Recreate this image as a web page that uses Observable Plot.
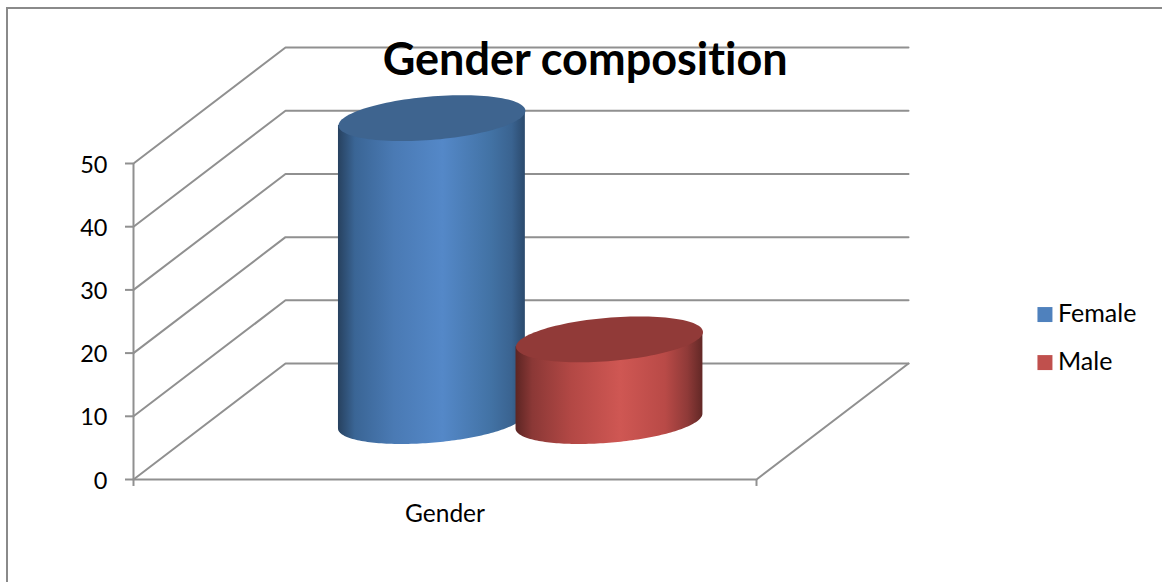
<!DOCTYPE html>
<html>
<head>
<meta charset="utf-8">
<title>Gender composition</title>
<style>
  html, body { margin: 0; padding: 0; background: #fff; overflow: hidden; }
  #chart { position: relative; width: 1162px; height: 582px; overflow: hidden; }
  #chart svg { display: block; position: absolute; left: 0; top: 0; font-variant-ligatures: none; }
  #chart svg text { font-variant-ligatures: none; font-feature-settings: "liga" 0; }
  /* Chart-area outline: runs off the page on the right and bottom. */
  #outline { position: absolute; left: 6px; top: 7px; width: 1170px; height: 600px;
             border: 2px solid #8a8a8a; box-sizing: border-box; }
</style>
<script src="https://cdn.jsdelivr.net/npm/d3@7"></script>
<script src="https://cdn.jsdelivr.net/npm/@observablehq/plot@0.6"></script>
</head>
<body>
<div id="chart"><div id="outline"></div></div>
<script>
// Chart values
const categoryName = "Gender";
const seriesNames = ["Female", "Male"];
const seriesValues = [48, 13];
const valueTicks = [0, 10, 20, 30, 40, 50];

// Colours
const swatchColors = ["#4f81bd", "#c0504d"];
const capColors = ["#3e648f", "#913a38"];
const bodyStops = [
  [[0, "#27415f"], [0.09, "#3a6595"], [0.3, "#4a7ab4"], [0.56, "#5488c8"], [0.82, "#4272a4"], [0.93, "#3a6390"], [1, "#2b4a6d"]],
  [[0, "#5c2523"], [0.09, "#8b3836"], [0.3, "#b34845"], [0.56, "#cf5753"], [0.8, "#b94a47"], [0.92, "#8f3a38"], [1, "#622826"]]
];
const gridColor = "#909090";

// Oblique projection: each unit of depth shifts right and up.
const depthX = 0.244;
const depthV = 18.35;
const maxValue = 50;

// Cylinder footprint, expressed in category width and in floor depth.
const slotCenters = [0.357, 0.642];
const radiusX = 0.142;
const radiusZ = 0.198;
const midDepth = 0.5;

const px = (x, z) => x + depthX * z;
const pv = (v, z) => v + depthV * z;

// Closed outline of the cylinder's top, in chart coordinates.
function capOutline(cx, value) {
  return d3.range(0, 121).map(i => {
    const t = (i / 120) * 2 * Math.PI;
    return {
      x: px(cx + radiusX * Math.cos(t), midDepth + radiusZ * Math.sin(t)),
      y: pv(value, midDepth + radiusZ * Math.sin(t))
    };
  });
}

// Visible side wall: from the left tangent point round the front to the right one.
function wallOutline(cx, value) {
  const tangent = Math.atan2(radiusZ * depthX, radiusX);
  const centerX = px(cx, midDepth);
  const rightX = px(cx + radiusX * Math.cos(tangent), midDepth + radiusZ * Math.sin(tangent));
  const rightRise = depthV * radiusZ * Math.sin(tangent);
  return d3.range(0, 101).map(i => {
    const t = tangent + Math.PI + (i / 100) * Math.PI;
    const z = midDepth + radiusZ * Math.sin(t);
    const x = px(cx + radiusX * Math.cos(t), z);
    return {
      x,
      y1: pv(0, z),
      y2: pv(value, midDepth) + ((x - centerX) / (rightX - centerX)) * rightRise
    };
  });
}

// Gridline on the side wall and back wall for one axis value.
const gridPath = v => [
  { x: px(0, 0), y: pv(v, 0), v },
  { x: px(0, 1), y: pv(v, 1), v },
  { x: px(1, 1), y: pv(v, 1), v }
];

// Floor edges not covered by the gridline at zero.
const floorFront = [
  { x: px(0, 0), y: pv(0, 0) },
  { x: px(1, 0), y: pv(0, 0) },
  { x: px(1, 1), y: pv(0, 1) }
];

// Gradient definitions for the cylinder walls.
function wallGradients() {
  const ns = "http://www.w3.org/2000/svg";
  const defs = document.createElementNS(ns, "defs");
  bodyStops.forEach((stops, i) => {
    const g = document.createElementNS(ns, "linearGradient");
    g.setAttribute("id", "wall" + i);
    g.setAttribute("x1", "0");
    g.setAttribute("x2", "1");
    g.setAttribute("y1", "0");
    g.setAttribute("y2", "0");
    stops.forEach(([offset, color]) => {
      const s = document.createElementNS(ns, "stop");
      s.setAttribute("offset", offset);
      s.setAttribute("stop-color", color);
      g.appendChild(s);
    });
    defs.appendChild(g);
  });
  return defs;
}

const lineStyle = { stroke: gridColor, strokeWidth: 2 };
const labelFont = "Lato, Carlito, sans-serif";

const cylinderMarks = seriesValues.flatMap((value, i) => [
  Plot.areaY(wallOutline(slotCenters[i], value), {
    x: "x", y1: "y1", y2: "y2", fill: `url(#wall${i})`, curve: "linear"
  }),
  Plot.line(capOutline(slotCenters[i], value), {
    x: "x", y: "y", fill: capColors[i], stroke: null, curve: "linear-closed"
  })
]);

const legendRows = seriesNames.map((name, i) => ({
  name,
  color: swatchColors[i],
  x: 1.463,
  y: 26.1 - i * 7.6
}));

const chart = Plot.plot({
  width: 1162,
  height: 582,
  marginLeft: 133,
  marginRight: 406,
  marginTop: 163,
  marginBottom: 103,
  style: { background: "transparent", overflow: "visible" },
  x: { domain: [0, 1], axis: null },
  y: { domain: [0, maxValue], axis: null },
  marks: [
    wallGradients,
    // Walls and floor
    ...valueTicks.map(v => Plot.line(gridPath(v), { x: "x", y: "y", ...lineStyle })),
    Plot.line(floorFront, { x: "x", y: "y", ...lineStyle }),
    Plot.ruleX([0], { y1: 0, y2: maxValue, ...lineStyle }),
    Plot.ruleX([0, 1], { y1: 0, y2: -1.1, ...lineStyle }),
    // Cylinders, back to front in series order
    ...cylinderMarks,
    // Value axis: tick marks, then labels set slightly below them
    Plot.axisY({
      ticks: valueTicks, tickSize: 8, text: null, label: null,
      stroke: gridColor, strokeWidth: 2
    }),
    Plot.axisY({
      ticks: valueTicks, tickSize: 0, tickPadding: 26, label: null, dy: 1.5,
      fill: "#000", fontSize: 23.5, fontFamily: labelFont
    }),
    // Category label
    Plot.text([categoryName], {
      x: [0.5], y: [-5.5], text: d => d, fontSize: 24.5, fontFamily: labelFont, fill: "#000"
    }),
    // Title
    Plot.text(["Gender composition"], {
      x: [0.725], y: [66.3], text: d => d, fontSize: 45, fontWeight: "bold",
      fontFamily: labelFont, fill: "#000"
    }),
    // Legend
    Plot.dot(legendRows, {
      x: "x", y: "y", fill: "color", symbol: "square", r: 8.46, stroke: null
    }),
    Plot.text(legendRows, {
      x: () => 1.484, y: "y", dy: -1, text: "name", textAnchor: "start",
      fontSize: 25, fontFamily: labelFont, fill: "#000"
    })
  ]
});

document.getElementById("chart").prepend(chart);
</script>
</body>
</html>
